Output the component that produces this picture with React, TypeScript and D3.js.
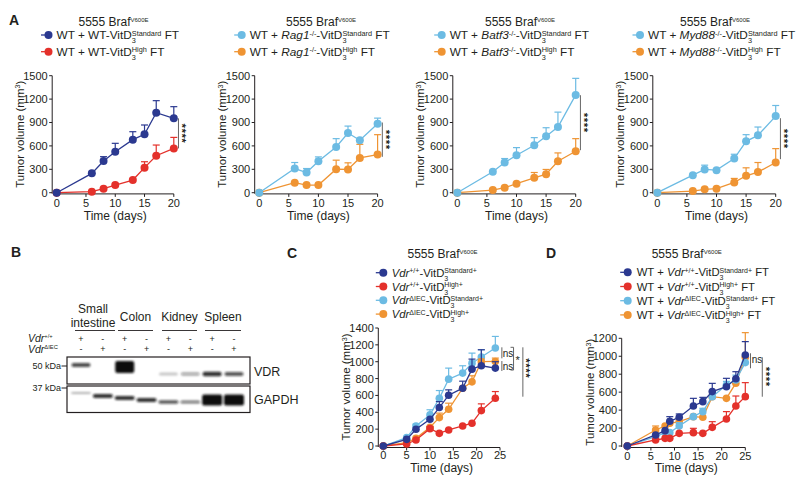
import React from 'react';
import * as d3 from 'd3';

const FONT = '"Liberation Sans", Arial, Helvetica, sans-serif';
const INK = '#231f20';
const NAVY = '#2b3990';
const RED = '#e4312b';
const SKY = '#6cbbe3';
const ORANGE = '#ef9433';

// ---------------- Panel A data ----------------
const daysA = [0, 6, 8, 10, 13, 15, 17, 20];
const a1Std = [0, 248, 406, 526, 680, 748, 1026, 953];
const a1StdTop = [null, null, 462, 633, 782, 868, 1180, 1103];
const a1High = [0, 13, 51, 98, 162, 321, 474, 568];
const a1HighTop = [null, null, null, null, null, 397, 611, 709];
const a2Std = [0, 310, 259, 404, 587, 765, 672, 884];
const a2StdTop = [null, 387, 310, 459, 693, 854, null, 956];
const a2High = [0, 128, 98, 98, 302, 298, 446, 489];
const a2HighTop = [null, null, null, null, 417, 383, 620, 744];
const a3Std = [0, 268, 387, 480, 608, 723, 842, 1254];
const a3StdTop = [null, null, 438, 578, 706, 833, 1033, 1466];
const a3High = [0, 34, 64, 115, 191, 238, 404, 531];
const a3HighTop = [null, null, null, null, 259, 298, 510, 693];
const a4Std = [0, 225, 298, 289, 438, 659, 735, 982];
const a4StdTop = [null, null, 353, null, 493, 744, 842, 1118];
const a4High = [0, 21, 43, 51, 132, 217, 264, 387];
const a4HighTop = [null, null, null, null, 183, 319, 387, 565];
const ticksA_y = [0, 300, 600, 900, 1200, 1500];
const ticksA_x = [0, 5, 10, 15, 20];

// ---------------- Panel C data ----------------
const daysC = [0, 5, 7, 10, 12, 14, 17, 19, 21, 24];
const cWtStd = [0, 79, 198, 317, 456, 603, 686, 912, 952, 924];
const cWtStdTop = [null, null, null, null, 527, 666, 769, 1031, 1142, 1000];
const cWtHigh = [0, 24, 71, 206, 150, 190, 238, 270, 420, 567];
const cWtHighTop = [null, null, null, 230, null, null, null, null, 500, 646];
const cKoStd = [0, 99, 238, 369, 567, 793, 865, 983, 1055, 1162];
const cKoStdTop = [null, null, 260, 430, 658, 924, 952, 1102, 1142, 1300];
const cKoHigh = [0, 40, 91, 222, 337, 436, 686, 761, 1000, 1003];
const cKoHighTop = [null, null, null, null, 390, 508, null, 833, 1031, 1043];
const ticksC_y = [0, 200, 400, 600, 800, 1000, 1200, 1400];
const ticksCD_x = [0, 5, 10, 15, 20, 25];

// ---------------- Panel D data ----------------
const daysD = [0, 6, 8, 9, 11, 14, 16, 18, 21, 23, 25];
const dWtStd = [0, 123, 171, 275, 320, 446, 494, 606, 661, 750, 1014];
const dWtStdTop = [null, null, null, 327, 357, 531, 542, 698, 754, 828, 1163];
const dWtHigh = [0, 67, 85, 85, 141, 149, 141, 208, 301, 446, 550];
const dWtHighTop = [null, null, null, null, null, 197, null, 271, 383, 557, 706];
const dKoStd = [0, 104, 150, 149, 223, 327, 383, 550, 680, 736, 929];
const dKoStdTop = [null, null, null, null, 260, null, 420, null, 720, 790, null];
const dKoHigh = [0, 178, 223, 253, 271, 327, 320, 550, 531, 700, 988];
const dKoHighTop = [null, 223, null, null, null, null, null, null, null, null, 1263];
const ticksD_y = [0, 200, 400, 600, 800, 1000, 1200];

// ---------------- Panel B (western blot) ----------------
const tissues = ['Small intestine', 'Colon', 'Kidney', 'Spleen'];
const vdrWt = ['+', '-', '+', '-', '+', '-', '+', '-'];
const vdrKo = ['-', '+', '-', '+', '-', '+', '-', '+'];
const vdrBand = [0.75, 0, 1, 0, 0.22, 0.35, 0.85, 0.7];
const vdrBandHeight = [4, 0, 12, 0, 3, 3.5, 4.5, 4];
const vdrBandShift = [-8, 0, -6, 0, 1, 1, 1, 1];
const gapdhBand = [0.3, 0.85, 0.85, 0.85, 0.7, 0.55, 1, 1];
const gapdhBandHeight = [2, 4, 4, 4, 3.5, 3, 11, 11];
const gapdhBandShift = [-7, -4, -2, 0, 2, 2, 0, 0];

type Seg = [string, string];

function Rich({ x, y, segs, size, anchor = 'start', supScale = 0.62, fill = INK, transform }: any) {
  let cur = 0;
  let prevSubW = 0;
  const spans = segs.map(([t, k]: Seg, i: number) => {
    let fs = size;
    let off = 0;
    let italic = false;
    let dx = 0;
    if (k === 'i') italic = true;
    if (k === 'sup') { fs = size * supScale; off = -size * 0.3; }
    if (k === 'sub') { fs = size * 0.62; off = size * 0.36; }
    if (k === 'over') { fs = size * supScale; off = -size * 0.3; dx = -prevSubW; }
    const dy = off - cur;
    cur = off;
    if (k === 'sub') prevSubW = t.length * 0.556 * fs;
    return (
      <tspan key={i} dx={dx || undefined} dy={dy || undefined} fontSize={fs}
        fontStyle={italic ? 'italic' : undefined}>{t}</tspan>
    );
  });
  return (
    <text x={x} y={y} fontSize={size} fontFamily={FONT} textAnchor={anchor} fill={fill} transform={transform}>
      {spans}
    </text>
  );
}

type Series = { color: string; values: number[]; tops: (number | null)[] };

function Chart({ x0, x1, yB, yT, xMax, yMax, xTicks, yTicks, days, series, yGap, xGap, tickBase, timeBase, r, annots }: any) {
  const x = d3.scaleLinear().domain([0, xMax]).range([x0, x1]);
  const y = d3.scaleLinear().domain([0, yMax]).range([yB, yT]);
  const ax = x0 - yGap;
  const ay = yB + xGap;
  const line = d3.line<number>().x((_, i) => x(days[i])).y((v) => y(v));
  const midY = (yB + yT) / 2;
  return (
    <g fontFamily={FONT} fill={INK}>
      {/* y axis */}
      <line x1={ax} x2={ax} y1={yT} y2={yB + 1} stroke={INK} strokeWidth={1} />
      {yTicks.map((t: number) => (
        <g key={'y' + t}>
          <line x1={ax - 3} x2={ax} y1={y(t)} y2={y(t)} stroke={INK} strokeWidth={1} />
          <text x={ax - 4.5} y={y(t)} dy="0.36em" textAnchor="end" fontSize={11}>{t}</text>
        </g>
      ))}
      {/* x axis */}
      <line x1={x(0)} x2={x(xMax)} y1={ay} y2={ay} stroke={INK} strokeWidth={1} />
      {xTicks.map((t: number) => (
        <g key={'x' + t}>
          <line x1={x(t)} x2={x(t)} y1={ay} y2={ay + 3} stroke={INK} strokeWidth={1} />
          <text x={x(t)} y={yB + tickBase} textAnchor="middle" fontSize={11}>{t}</text>
        </g>
      ))}
      <text x={(x(0) + x(xMax)) / 2} y={yB + timeBase} textAnchor="middle" fontSize={12}>Time (days)</text>
      <Rich x={0} y={0} size={11.5} anchor="middle"
        transform={`translate(${x0 - 33},${midY}) rotate(-90)`}
        segs={[['Tumor volume (mm', 'n'], ['3', 'sup'], [')', 'n']]} />
      {/* series */}
      {series.map((s: Series, si: number) => (
        <g key={si}>
          {s.tops.map((t, i) =>
            t == null ? null : (
              <g key={i} stroke={s.color} strokeWidth={1.2}>
                <line x1={x(days[i])} x2={x(days[i])} y1={y(s.values[i])} y2={y(t)} />
                <line x1={x(days[i]) - 3.5} x2={x(days[i]) + 3.5} y1={y(t)} y2={y(t)} />
              </g>
            ))}
          <path d={line(s.values) || ''} fill="none" stroke={s.color} strokeWidth={1.3} />
          {s.values.map((v, i) => (
            <circle key={i} cx={x(days[i])} cy={y(v)} r={r} fill={s.color} />
          ))}
        </g>
      ))}
      {/* significance */}
      {annots.map((a: any, i: number) => {
        if (a.type === 'vline')
          return <line key={i} x1={x(a.x)} x2={x(a.x)} y1={y(a.y1)} y2={y(a.y2)} stroke="#555" strokeWidth={0.9} />;
        if (a.type === 'bracket')
          return (
            <path key={i} d={`M${x(a.x) - 3},${y(a.y1)}H${x(a.x)}V${y(a.y2)}H${x(a.x) - 3}`}
              fill="none" stroke="#555" strokeWidth={0.9} />
          );
        if (a.type === 'text')
          return <text key={i} x={x(a.x)} y={y(a.y)} dy="0.35em" textAnchor="middle" fontSize={10}>{a.text}</text>;
        if (a.type === 'star')
          return <text key={i} x={x(a.x)} y={y(a.y)} dy="0.5em" textAnchor="middle" fontSize={11}>*</text>;
        if (a.type === 'stars')
          return (
            <text key={i} x={0} y={0} dy="0.5em" textAnchor="middle" fontSize={11.5} letterSpacing={0.5}
              fontWeight="bold" transform={`translate(${x(a.x)},${y(a.y)}) rotate(90)`}>****</text>
          );
        return null;
      })}
    </g>
  );
}

function Legend({ x, y0, step, items, size, gap }: any) {
  return (
    <g>
      {items.map((it: any, i: number) => {
        const cy = y0 + i * step;
        return (
          <g key={i}>
            <line x1={x - 7.5} x2={x + 3} y1={cy} y2={cy} stroke={it.color} strokeWidth={1.3} />
            <circle cx={x} cy={cy} r={4} fill={it.color} />
            <Rich x={x + gap} y={cy + size * 0.36} segs={it.segs} size={size} />
          </g>
        );
      })}
    </g>
  );
}

const titleSegs: Seg[] = [['5555 Braf', 'n'], ['V600E', 'sup']];

function legendA(gene: string | null, sup: string | null): Seg[][] {
  const mid: Seg[] = gene ? [[gene, 'i'], [sup || '', 'sup'], ['-VitD', 'n']] : [['WT-VitD', 'n']];
  return [
    [['WT + ', 'n'], ...mid, ['3', 'sub'], ['Standard', 'over'], [' FT', 'n']],
    [['WT + ', 'n'], ...mid, ['3', 'sub'], ['High', 'over'], [' FT', 'n']],
  ];
}

function Blot() {
  const lanes = d3.range(8);
  const lx = d3.scaleLinear().domain([0, 7]).range([81, 234]);
  const groups = [[75, 115], [118, 153], [162, 197], [205, 241]];
  return (
    <g fontFamily={FONT} fill={INK}>
      <defs>
        <filter id="blur" x="-50%" y="-100%" width="200%" height="300%">
          <feGaussianBlur stdDeviation="1.3" />
        </filter>
      </defs>
      <text x={93} y={313} textAnchor="middle" fontSize={12}>Small</text>
      <text x={93} y={327} textAnchor="middle" fontSize={12}>intestine</text>
      {tissues.slice(1).map((t, i) => (
        <text key={t} x={(groups[i + 1][0] + groups[i + 1][1]) / 2} y={320.5} textAnchor="middle" fontSize={12}>{t}</text>
      ))}
      {groups.map((g, i) => (
        <line key={i} x1={g[0]} x2={g[1]} y1={330.5} y2={330.5} stroke={INK} strokeWidth={0.9} />
      ))}
      <Rich x={28} y={341.5} size={10.5} supScale={0.55} segs={[['Vdr', 'i'], ['+/+', 'sup']]} />
      <Rich x={28} y={352.5} size={10.5} supScale={0.55} segs={[['Vdr', 'i'], ['ΔIEC', 'sup']]} />
      {lanes.map((i) => (
        <g key={i}>
          <text x={lx(i)} y={341.5} textAnchor="middle" fontSize={9}>{vdrWt[i]}</text>
          <text x={lx(i)} y={351.5} textAnchor="middle" fontSize={9}>{vdrKo[i]}</text>
        </g>
      ))}
      {/* VDR box */}
      <rect x={67} y={357} width={183} height={27} fill="#fff" stroke={INK} strokeWidth={1.2} />
      <g filter="url(#blur)">
        {lanes.map((i) =>
          vdrBand[i] > 0 ? (
            <rect key={i} x={lx(i) - 9.5} y={373 + vdrBandShift[i] - vdrBandHeight[i] / 2} width={19}
              height={vdrBandHeight[i]} rx={2} fill="#111" opacity={vdrBand[i]} />
          ) : null)}
      </g>
      <rect x={67} y={386} width={183} height={26.5} fill="none" stroke={INK} strokeWidth={1.2} />
      <g filter="url(#blur)">
        {lanes.map((i) => (
          <rect key={i} x={lx(i) - 10} y={400 + gapdhBandShift[i] - gapdhBandHeight[i] / 2} width={20}
            height={gapdhBandHeight[i]} rx={2} fill="#111" opacity={gapdhBand[i]} />
        ))}
      </g>
      <text x={61} y={369} textAnchor="end" fontSize={9}>50 kDa</text>
      <line x1={61.5} x2={67} y1={366} y2={366} stroke={INK} />
      <text x={61} y={391} textAnchor="end" fontSize={9}>37 kDa</text>
      <line x1={61.5} x2={67} y1={388} y2={388} stroke={INK} />
      <text x={254} y={376} fontSize={12.5}>VDR</text>
      <text x={254} y={404} fontSize={12.5}>GAPDH</text>
    </g>
  );
}

export default function App() {
  const aPanels = [
    { x0: 56.7, x1: 173.8, std: a1Std, stdTop: a1StdTop, high: a1High, highTop: a1HighTop,
      c1: NAVY, c2: RED, leg: legendA(null, null), tx: 113.5, lx: 48.5, sig: [953, 568] },
    { x0: 259.2, x1: 377.6, std: a2Std, stdTop: a2StdTop, high: a2High, highTop: a2HighTop,
      c1: SKY, c2: ORANGE, leg: legendA('Rag1', '-/-'), tx: 321, lx: 241.7, sig: [900, 460] },
    { x0: 457.3, x1: 575.7, std: a3Std, stdTop: a3StdTop, high: a3High, highTop: a3HighTop,
      c1: SKY, c2: ORANGE, leg: legendA('Batf3', '-/-'), tx: 520, lx: 441.7, sig: [1250, 545] },
    { x0: 657.3, x1: 775.7, std: a4Std, stdTop: a4StdTop, high: a4High, highTop: a4HighTop,
      c1: SKY, c2: ORANGE, leg: legendA('Myd88', '-/-'), tx: 715, lx: 640, sig: [955, 430] },
  ];

  const legC: any[] = [
    { color: NAVY, segs: [['Vdr', 'i'], ['+/+', 'sup'], ['-VitD', 'n'], ['3', 'sub'], ['Standard+', 'over']] },
    { color: RED, segs: [['Vdr', 'i'], ['+/+', 'sup'], ['-VitD', 'n'], ['3', 'sub'], ['High+', 'over']] },
    { color: SKY, segs: [['Vdr', 'i'], ['ΔIEC', 'sup'], ['-VitD', 'n'], ['3', 'sub'], ['Standard+', 'over']] },
    { color: ORANGE, segs: [['Vdr', 'i'], ['ΔIEC', 'sup'], ['-VitD', 'n'], ['3', 'sub'], ['High+', 'over']] },
  ];
  const legD: any[] = legC.map((l) => ({ color: l.color, segs: [['WT + ', 'n'], ...l.segs, [' FT', 'n']] }));

  return (
    <svg width={800} height={487} style={{ position: 'absolute', left: 0, top: 0, background: '#fff' }}>
      <rect width={800} height={487} fill="#fff" />
      <g fontFamily={FONT} fontWeight="bold" fontSize={14} fill={INK}>
        <text x={9} y={25}>A</text>
        <text x={11} y={257}>B</text>
        <text x={287} y={258}>C</text>
        <text x={546} y={258}>D</text>
      </g>
      {aPanels.map((p, i) => (
        <g key={i}>
          <Rich x={p.tx} y={26} size={12} anchor="middle" supScale={0.5} segs={titleSegs} />
          <Legend x={p.lx} y0={35} step={16.7} size={11.8} gap={8} items={[{ color: p.c1, segs: p.leg[0] }, { color: p.c2, segs: p.leg[1] }]} />
          <Chart x0={p.x0} x1={p.x1} yB={192.7} yT={75.7} xMax={20} yMax={1500}
            xTicks={ticksA_x} yTicks={ticksA_y} days={daysA} yGap={4.5} xGap={1.2}
            tickBase={14.6} timeBase={27} r={4}
            series={[
              { color: p.c2, values: p.high, tops: p.highTop },
              { color: p.c1, values: p.std, tops: p.stdTop },
            ]}
            annots={[
              { type: 'vline', x: 20.8, y1: p.sig[0], y2: p.sig[1] },
              { type: 'stars', x: 21.7, y: (p.sig[0] + p.sig[1]) / 2 },
            ]} />
        </g>
      ))}

      <Blot />

      {/* Panel C */}
      <Rich x={442.5} y={257.6} size={12} anchor="middle" supScale={0.5} segs={titleSegs} />
      <Legend x={383.3} y0={272.7} step={13.8} size={11.3} gap={8.4} items={legC} />
      <Chart x0={383.3} x1={500} yB={446} yT={328} xMax={25} yMax={1400}
        xTicks={ticksCD_x} yTicks={ticksC_y} days={daysC} yGap={5} xGap={1.5}
        tickBase={13.4} timeBase={25.5} r={3.8}
        series={[
          { color: SKY, values: cKoStd, tops: cKoStdTop },
          { color: ORANGE, values: cKoHigh, tops: cKoHighTop },
          { color: RED, values: cWtHigh, tops: cWtHighTop },
          { color: NAVY, values: cWtStd, tops: cWtStdTop },
        ]}
        annots={[
          { type: 'vline', x: 25.4, y1: 1171, y2: 1040 },
          { type: 'text', x: 26.7, y: 1100, text: 'ns' },
          { type: 'vline', x: 25.4, y1: 1008, y2: 890 },
          { type: 'text', x: 26.7, y: 949, text: 'ns' },
          { type: 'bracket', x: 27.9, y1: 1171, y2: 901 },
          { type: 'star', x: 28.8, y: 1044 },
          { type: 'vline', x: 29.9, y1: 1171, y2: 585 },
          { type: 'stars', x: 31.0, y: 922 },
        ]} />

      {/* Panel D */}
      <Rich x={686.7} y={257.6} size={12} anchor="middle" supScale={0.5} segs={titleSegs} />
      <Legend x={627.7} y0={272.3} step={14.2} size={11.3} gap={9} items={legD} />
      <Chart x0={627.3} x1={745.3} yB={446} yT={338.3} xMax={25} yMax={1200}
        xTicks={ticksCD_x} yTicks={ticksD_y} days={daysD} yGap={5.6} xGap={1.5}
        tickBase={13.6} timeBase={26.2} r={3.8}
        series={[
          { color: ORANGE, values: dKoHigh, tops: dKoHighTop },
          { color: SKY, values: dKoStd, tops: dKoStdTop },
          { color: RED, values: dWtHigh, tops: dWtHighTop },
          { color: NAVY, values: dWtStd, tops: dWtStdTop },
        ]}
        annots={[
          { type: 'vline', x: 26.1, y1: 1033, y2: 866 },
          { type: 'text', x: 27.5, y: 969, text: 'ns' },
          { type: 'vline', x: 28.6, y1: 988, y2: 549 },
          { type: 'stars', x: 29.8, y: 772 },
        ]} />
    </svg>
  );
}
